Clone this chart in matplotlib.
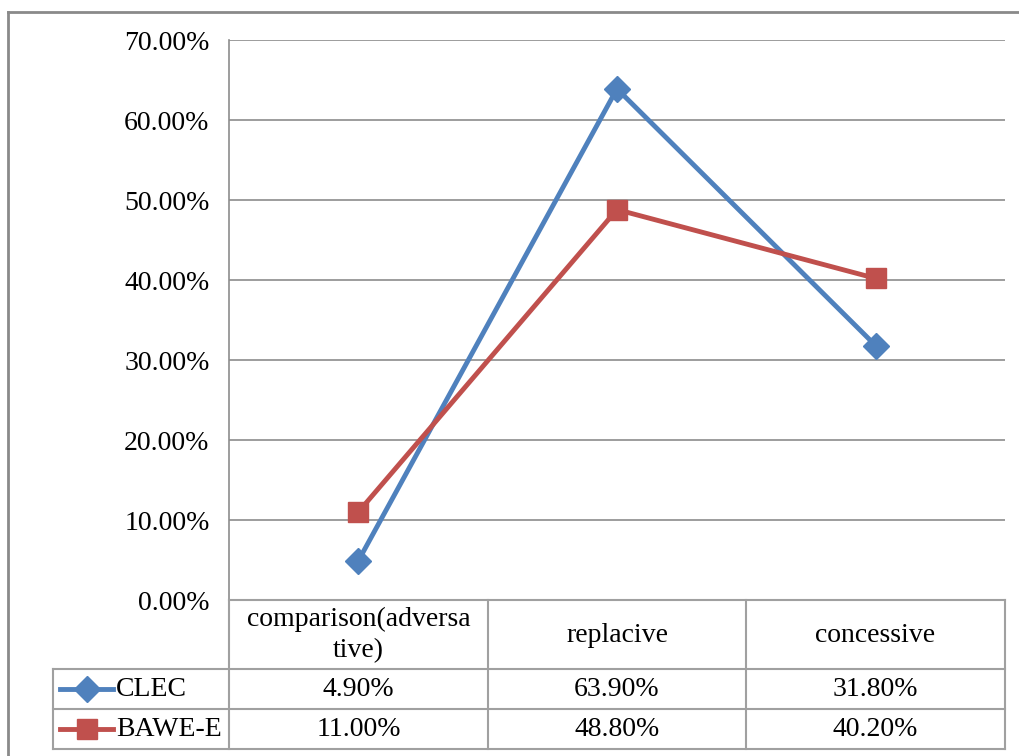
import numpy as np
import matplotlib.pyplot as plt

# data
categories = ["comparison(adversa\ntive)", "replacive", "concessive"]
series_names = ["CLEC", "BAWE-E"]
clec = [4.9, 63.9, 31.8]
bawe = [11.0, 48.8, 40.2]
yticks = [0, 10, 20, 30, 40, 50, 60, 70]

plt.rcParams['font.family'] = ['Liberation Serif', 'DejaVu Serif']

W, H = 1020, 756
fig = plt.figure(figsize=(W / 100, H / 100), dpi=100)

def px(x0, y0, x1, y1):
    # pixel box -> figure fraction rect
    return [x0 / W, 1 - y1 / H, (x1 - x0) / W, (y1 - y0) / H]

grid_c = "#8c8c8c"
blue = "#4F81BD"
red = "#C0504D"
fs = 20

# outer frame (top + left edges visible)
fig.add_artist(plt.Line2D([8 / W, 1], [1 - 12 / H] * 2, color="#8a8a8a", lw=2))
fig.add_artist(plt.Line2D([8 / W] * 2, [0, 1 - 12 / H], color="#8a8a8a", lw=2))

ax = fig.add_axes(px(229, 40, 1005, 600))
x = np.arange(len(categories))
ax.plot(x, clec, color=blue, lw=3.5, marker="D", ms=13, zorder=3)
ax.plot(x, bawe, color=red, lw=3.5, marker="s", ms=15, zorder=3)
ax.set_xlim(-0.5, len(categories) - 0.5)
ax.set_ylim(0, 70)
ax.set_yticks(yticks)
ax.set_yticklabels([f"{v:.2f}%" for v in yticks], fontsize=fs)
ax.set_xticks([])
ax.tick_params(axis="y", length=0, pad=14)
ax.grid(axis="y", color=grid_c, lw=1.2)
for s in ["top", "right", "bottom"]:
    ax.spines[s].set_visible(False)
ax.spines["left"].set_color(grid_c)
ax.spines["left"].set_linewidth(1.2)

# data table below the plot, drawn in pixel coordinates
tab = fig.add_axes(px(0, 600, W, 756))
tab.set_xlim(0, W)
tab.set_ylim(756, 600)
tab.axis("off")
cols = [229, 488, 746, 1005]
lk = dict(color="#a0a0a0", lw=1.5, clip_on=False)
tab.plot([229, 1005], [600, 600], **lk)
for yy in [669, 709, 749]:
    tab.plot([53, 1005], [yy, yy], **lk)
tab.plot([53, 53], [669, 749], **lk)
for xx in cols:
    tab.plot([xx, xx], [600, 749], **lk)

for i, cat in enumerate(categories):
    cx = (cols[i] + cols[i + 1]) / 2
    tab.text(cx, 635, cat, ha="center", va="center", fontsize=fs, linespacing=1.35)

rows = [(series_names[0], clec, blue, "D", 13, 689),
        (series_names[1], bawe, red, "s", 15, 729)]
for name, vals, c, m, ms, yy in rows:
    tab.plot([60, 113], [yy, yy], color=c, lw=3.5, clip_on=False)
    tab.plot([87], [yy], color=c, marker=m, ms=ms, clip_on=False)
    tab.text(116, yy, name, ha="left", va="center", fontsize=fs)
    for i, v in enumerate(vals):
        cx = (cols[i] + cols[i + 1]) / 2
        tab.text(cx, yy, f"{v:.2f}%", ha="center", va="center", fontsize=fs)

fig.savefig("out.png", dpi=100)
